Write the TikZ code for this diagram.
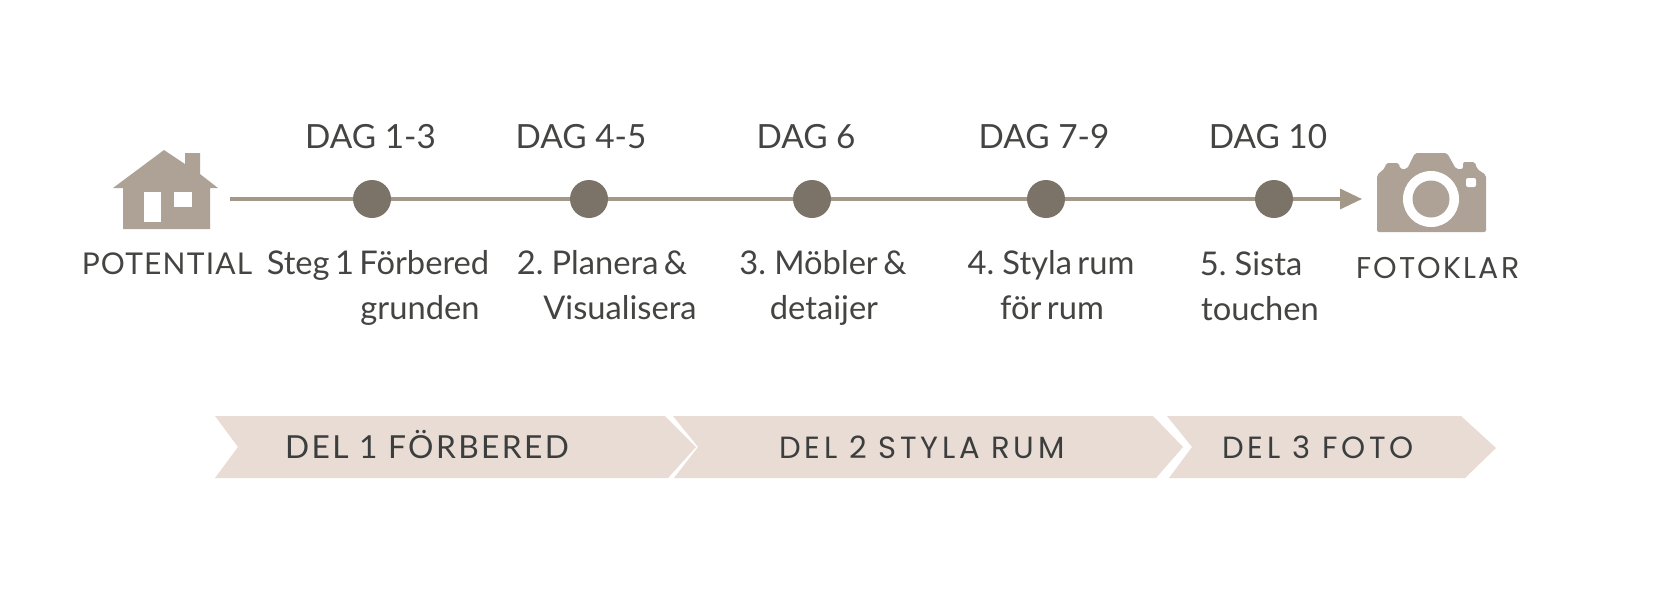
\documentclass[tikz,border=0pt]{standalone}
\usepackage{fontspec}
\setmainfont{Lato}
\newfontfamily\stepfont[WordSpace=0.65]{Lato}
\newfontfamily\capsfont[LetterSpace=4]{Lato}
\newfontfamily\delfont[LetterSpace=7.5]{Lato}
\newfontfamily\widefont[LetterSpace=12]{Poppins}
\newfontfamily\fotofont[LetterSpace=7]{Poppins}
\usetikzlibrary{arrows.meta}
\definecolor{iconc}{HTML}{AEA297}
\definecolor{linec}{HTML}{A39788}
\definecolor{dotc}{HTML}{7B7367}
\definecolor{textc}{HTML}{444442}
\definecolor{ribbontext}{HTML}{3C3E3E}
\definecolor{ribbonc}{HTML}{E9DCD5}
\tikzset{
  x=0.75pt,y=-0.75pt,
  icon/.style={fill=iconc,draw=none},
  hole/.style={fill=white,draw=none},
  dotn/.style={circle,fill=dotc,draw=none,minimum size=28.5pt,inner sep=0pt},
  link/.style={draw=linec,line width=3pt},
  lastlink/.style={draw=linec,line width=2.5pt,-{Triangle[length=16.5pt,width=15pt,fill=linec]}},
  day/.style={anchor=base,text=textc,inner sep=0pt,font=\fontsize{25}{30}\selectfont},
  steplabel/.style={anchor=base,text=textc,inner sep=0pt,font=\stepfont\fontsize{24.5}{30}\selectfont},
  capslabel/.style={anchor=base,text=textc,inner sep=0pt,font=\capsfont\fontsize{22.5}{27}\selectfont},
  fotolabel/.style={anchor=base,text=textc,inner sep=0pt,font=\fotofont\fontsize{22.5}{27}\selectfont},
  ribbon/.style={fill=ribbonc,draw=none},
  ribbonlabel/.style={anchor=base,text=ribbontext,inner sep=0pt,font=\widefont\fontsize{23}{28}\selectfont},
  ribbonlabelb/.style={anchor=base,text=ribbontext,inner sep=0pt,font=\delfont\fontsize{23.8}{29}\selectfont},
}
\begin{document}
\begin{tikzpicture}
\useasboundingbox (0,0) rectangle (1655,608);
\fill[white] (0,0) rectangle (1655,608);

% house
\fill[icon] (113,188) -- (164,150) -- (185,164) -- (185,153) -- (200,153) -- (200,174) -- (218,188) -- (210,188) -- (210,229) -- (123,229) -- (123,188) -- cycle;
\fill[hole] (144,192) rectangle (161,222);
\fill[hole] (174,192) rectangle (192,207);

% camera
\fill[icon,rounded corners=1.5pt] (1377,232) -- (1377,175) -- (1385,168) -- (1386,163) -- (1399,163) -- (1400,169) -- (1407,169) -- (1415,153) -- (1447,153) -- (1456,169) -- (1463,169) -- (1463,162) -- (1475,162) -- (1477,169) -- (1486,175) -- (1486,232) -- cycle;
\fill[hole] (1431,199) circle[radius=28];
\fill[icon] (1431,199) circle[radius=18.5];
\fill[hole,rounded corners=1.5pt] (1466,178) rectangle (1476,187);

% timeline
\coordinate (lineStart) at (230,199);
\coordinate (lineEnd) at (1362,199);
\node[dotn] (d1) at (372,199) {};
\node[dotn] (d2) at (589,199) {};
\node[dotn] (d3) at (812,199) {};
\node[dotn] (d4) at (1046,199) {};
\node[dotn] (d5) at (1274,199) {};
\draw[link] (lineStart) -- (d1);
\draw[link] (d1) -- (d2);
\draw[link] (d2) -- (d3);
\draw[link] (d3) -- (d4);
\draw[link] (d4) -- (d5);
\draw[lastlink] (d5) -- (lineEnd);

% labels above
\node[day] (t1) at (370.5,148) {DAG 1-3};
\node[day] (t2) at (581,148) {DAG 4-5};
\node[day] (t3) at (806,148) {DAG 6};
\node[day] (t4) at (1044,148) {DAG 7-9};
\node[day] (t5) at (1268,148) {DAG 10};

% labels below
\node[capslabel] (potential) at (167,274) {POTENTIAL};
\node[steplabel] (s1a) at (378,274) {Steg 1 Förbered};
\node[steplabel] (s1b) at (420,319) {grunden};
\node[steplabel] (s2a) at (602,274) {2. Planera \&};
\node[steplabel] (s2b) at (620,319) {Visualisera};
\node[steplabel] (s3a) at (823,274) {3. Möbler \&};
\node[steplabel] (s3b) at (824,319) {detaijer};
\node[steplabel] (s4a) at (1051,274) {4. Styla rum};
\node[steplabel] (s4b) at (1052,319) {för rum};
\node[steplabel] (s5a) at (1251,275) {5. Sista};
\node[steplabel] (s5b) at (1260,320) {touchen};
\node[fotolabel] (fotoklar) at (1438,278) {FOTOKLAR};

% ribbons
\fill[ribbon] (215,416) -- (665,416) -- (696,447) -- (668,478) -- (215,478) -- (238,447) -- cycle;
\fill[ribbon] (673,416) -- (1153,416) -- (1183,447) -- (1156,478) -- (674,478) -- (698,447) -- cycle;
\fill[ribbon] (1167,416) -- (1461,416) -- (1496,448) -- (1465,478) -- (1169,478) -- (1192,447) -- cycle;
\node[ribbonlabelb] (r1) at (427,458) {DEL 1 FÖRBERED};
\node[ribbonlabel] (r2) at (922,458) {DEL 2 STYLA RUM};
\node[ribbonlabel] (r3) at (1318,458) {DEL 3 FOTO};
\end{tikzpicture}
\end{document}
